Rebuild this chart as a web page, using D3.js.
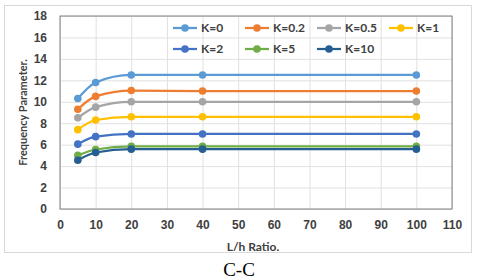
<!DOCTYPE html>
<html lang="en">
<head>
<meta charset="UTF-8">
<title>Frequency Parameter vs L/h</title>
<script src="https://d3js.org/d3.v7.min.js"></script>
<style>
    body { margin: 0; background: #fff; }
    svg { display: block; font-family: Lato, "Open Sans", sans-serif; }
    .tick text { font-size: 12px; font-weight: 700; fill: #404040; }
    .grid line { stroke: #e0e0e0; }
</style>
</head>
<body>
<div id="chart"></div>
<script>
// L/h ratios
const ratios = [5, 10, 20, 40, 100];
const seriesNames = ["K=0", "K=0.2", "K=0.5", "K=1", "K=2", "K=5", "K=10"];
const k0 = [10.3, 11.8, 12.5, 12.5, 12.5];
const k02 = [9.3, 10.5, 11.05, 11.0, 11.0];
const k05 = [8.5, 9.5, 10.0, 10.0, 10.0];
const k1 = [7.4, 8.3, 8.6, 8.6, 8.6];
const k2 = [6.05, 6.75, 7.0, 7.0, 7.0];
const k5 = [5.0, 5.55, 5.85, 5.85, 5.85];
const k10 = [4.55, 5.27, 5.58, 5.58, 5.58];
const xTicks = [0, 10, 20, 30, 40, 50, 60, 70, 80, 90, 100, 110];
const yTicks = [0, 2, 4, 6, 8, 10, 12, 14, 16, 18];

const colors = ["#5B9BD5", "#ED7D31", "#A5A5A5", "#FFC000", "#4472C4", "#70AD47", "#255E91"];
const allValues = [k0, k02, k05, k1, k2, k5, k10];

const W = 480, H = 280;
const margin = { left: 60, top: 16, right: 28, bottom: 71 };
const plotW = W - margin.left - margin.right;
const plotH = H - margin.top - margin.bottom;

const svg = d3.select("#chart").append("svg")
    .attr("width", W).attr("height", H);

// outer chart frame
svg.append("rect")
    .attr("x", 4.5).attr("y", 5.5).attr("width", 467).attr("height", 247)
    .attr("fill", "#fff").attr("stroke", "#d9d9d9");

const x = d3.scaleLinear().domain([0, 110]).range([0, plotW]);
const y = d3.scaleLinear().domain([0, 18]).range([plotH, 0]);

const g = svg.append("g").attr("transform", `translate(${margin.left},${margin.top})`);

// gridlines
g.append("g").attr("class", "grid")
    .call(d3.axisLeft(y).tickValues(yTicks).tickSize(-plotW).tickFormat(""))
    .call(s => s.select(".domain").remove());
g.append("g").attr("class", "grid")
    .attr("transform", `translate(0,${plotH})`)
    .call(d3.axisBottom(x).tickValues(xTicks).tickSize(plotH).tickFormat(""))
    .call(s => s.select(".domain").remove())
    .call(s => s.selectAll("line").attr("y2", -plotH));

// plot border
g.append("rect")
    .attr("width", plotW).attr("height", plotH)
    .attr("fill", "none").attr("stroke", "#808080").attr("stroke-width", 1);

// axes labels
g.append("g")
    .call(d3.axisLeft(y).tickValues(yTicks).tickSize(0).tickPadding(13))
    .call(s => s.select(".domain").remove());
g.append("g")
    .attr("transform", `translate(0,${plotH})`)
    .call(d3.axisBottom(x).tickValues(xTicks).tickSize(0).tickPadding(11))
    .call(s => s.select(".domain").remove());

// titles
svg.append("text")
    .attr("x", 253).attr("y", 251)
    .attr("text-anchor", "middle")
    .style("font-size", "12px").style("font-weight", 700).style("fill", "#404040")
    .text("L/h Ratio.");
svg.append("text")
    .attr("transform", `translate(27,${margin.top + plotH / 2}) rotate(-90)`)
    .attr("text-anchor", "middle")
    .style("font-size", "11px").style("font-weight", 700).style("fill", "#404040")
    .text("Frequency Parameter.");

// series
const line = d3.line()
    .x((d, i) => x(ratios[i]))
    .y(d => y(d))
    .curve(d3.curveMonotoneX);

allValues.forEach((vals, si) => {
    g.append("path")
        .datum(vals)
        .attr("d", line)
        .attr("fill", "none")
        .attr("stroke", colors[si])
        .attr("stroke-width", 2.25);
    g.selectAll(null)
        .data(vals)
        .join("circle")
        .attr("cx", (d, i) => x(ratios[i]))
        .attr("cy", d => y(d))
        .attr("r", 3.8)
        .attr("fill", colors[si]);
});

// legend
const legend = svg.append("g").attr("transform", "translate(173,28)");
seriesNames.forEach((name, i) => {
    const col = i < 4 ? i : i - 4;
    const row = i < 4 ? 0 : 1;
    const lg = legend.append("g").attr("transform", `translate(${col * 72},${row * 21})`);
    lg.append("line").attr("x1", 0).attr("x2", 24)
        .attr("stroke", colors[i]).attr("stroke-width", 2.25);
    lg.append("circle").attr("cx", 12).attr("r", 3.8).attr("fill", colors[i]);
    lg.append("text").attr("x", 28).attr("dy", "0.35em")
        .style("font-size", "12px").style("font-weight", 700).style("fill", "#404040")
        .text(name);
});

// caption
svg.append("text")
    .attr("x", 239).attr("y", 276)
    .attr("text-anchor", "middle")
    .style("font-family", "'Liberation Serif', 'DejaVu Serif', serif")
    .style("font-size", "19px")
    .text("C-C");
</script>
</body>
</html>
